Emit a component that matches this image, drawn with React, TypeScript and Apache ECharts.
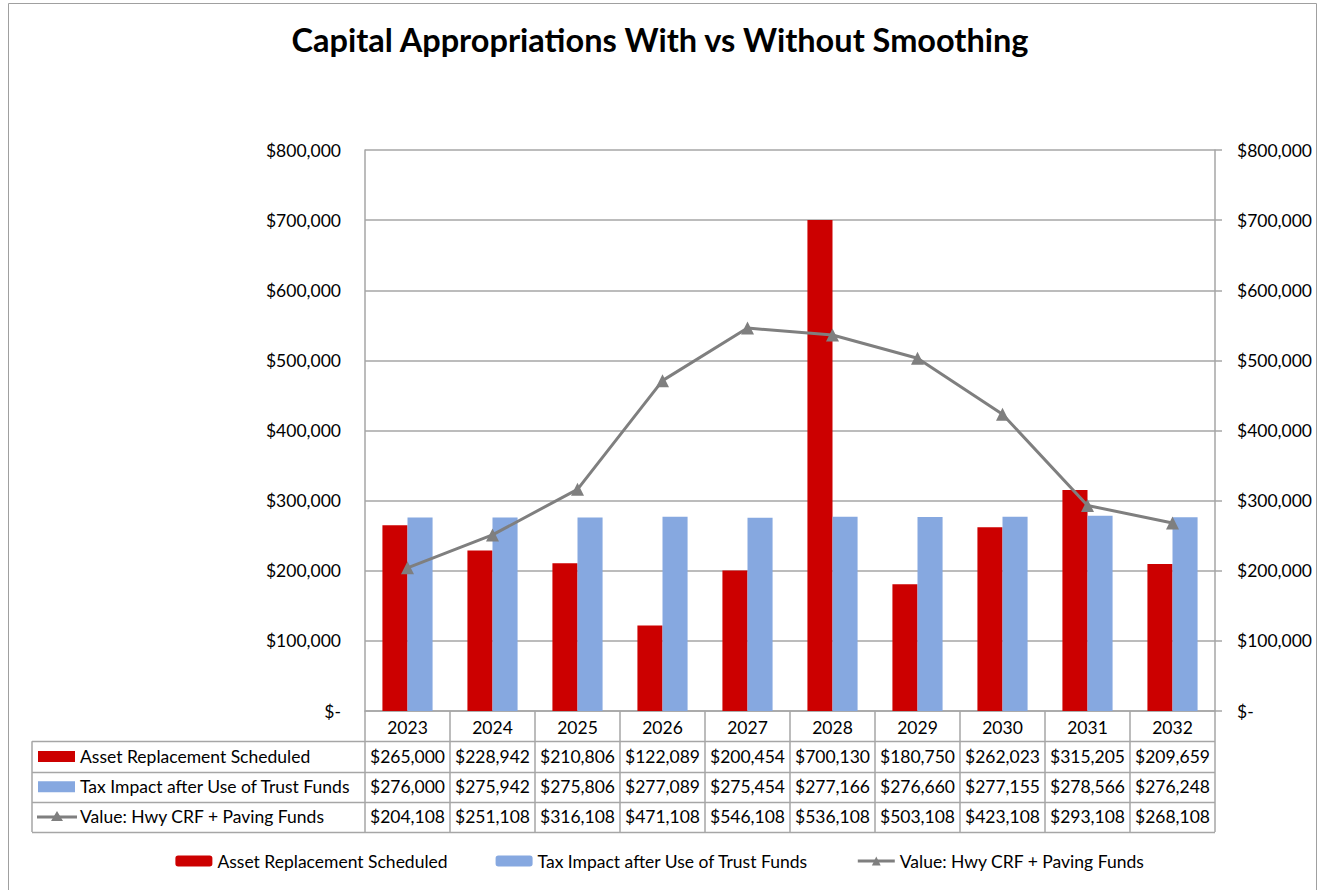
import React, { useEffect, useRef } from "react";
import * as echarts from "echarts";

const categories = ["2023", "2024", "2025", "2026", "2027", "2028", "2029", "2030", "2031", "2032"];
const assetReplacement = [265000, 228942, 210806, 122089, 200454, 700130, 180750, 262023, 315205, 209659];
const taxImpact = [276000, 275942, 275806, 277089, 275454, 277166, 276660, 277155, 278566, 276248];
const hwyValue = [204108, 251108, 316108, 471108, 546108, 536108, 503108, 423108, 293108, 268108];
const seriesNames = [
  "Asset Replacement Scheduled",
  "Tax Impact after Use of Trust Funds",
  "Value: Hwy CRF + Paving Funds",
];
const titleText = "Capital Appropriations With vs Without Smoothing";
const yMin = 0;
const yMax = 800000;
const yInterval = 100000;

const RED = "#cc0000";
const BLUE = "#86a8e0";
const GRAY = "#7f7f7f";
const RULE = "#a6a6a6";
const FONT = "Lato, 'Open Sans', sans-serif";
const FS = 17.5;

const W = 1320;
const H = 890;
const GRID_L = 365;
const GRID_R = 1215;
const GRID_T = 150;
const AXIS_Y = 711;
const ROW_H = 30.25;
const TABLE_L = 32;

const money = (v: number) => (v === 0 ? "$-" : "$" + v.toLocaleString("en-US"));

export default function App() {
  const ref = useRef<HTMLDivElement>(null);
  useEffect(() => {
    if (!ref.current) return;
    const chart = echarts.init(ref.current, null, { renderer: "svg" });
    const n = categories.length;
    const cellW = (GRID_R - GRID_L) / n;
    const rows = [assetReplacement, taxImpact, hwyValue];
    const graphics: any[] = [];
    graphics.push({
      type: "rect",
      shape: { x: 8.5, y: 3.5, width: 1308, height: 900 },
      style: { fill: "none", stroke: "#a0a0a0", lineWidth: 1 },
      silent: true,
      z: 0,
    });
    for (let r = 1; r <= 4; r++) {
      const y = Math.round(AXIS_Y + r * ROW_H) + 0.5;
      graphics.push({
        type: "line",
        shape: { x1: TABLE_L, y1: y, x2: GRID_R, y2: y },
        style: { stroke: RULE, lineWidth: 1.5 },
        silent: true,
      });
    }
    graphics.push({
      type: "line",
      shape: { x1: TABLE_L, y1: AXIS_Y + ROW_H, x2: TABLE_L, y2: AXIS_Y + 4 * ROW_H },
      style: { stroke: RULE, lineWidth: 1.5 },
      silent: true,
    });
    rows.forEach((vals, r) => {
      const cy = AXIS_Y + (r + 1.5) * ROW_H;
      if (r < 2) {
        graphics.push({
          type: "rect",
          shape: { x: 38, y: cy - 5.5, width: 37, height: 11 },
          style: { fill: r === 0 ? RED : BLUE },
          silent: true,
        });
      } else {
        graphics.push({
          type: "line",
          shape: { x1: 37, y1: cy, x2: 77, y2: cy },
          style: { stroke: GRAY, lineWidth: 3 },
          silent: true,
        });
        graphics.push({
          type: "polygon",
          shape: { points: [[57, cy - 6], [51, cy + 4], [63, cy + 4]] },
          style: { fill: GRAY },
          silent: true,
        });
      }
      graphics.push({
        type: "text",
        x: 80,
        y: cy,
        style: {
          text: seriesNames[r],
          font: `${FS}px ${FONT}`,
          fill: "#000",
          verticalAlign: "middle",
          align: "left",
        },
        silent: true,
      });
      vals.forEach((v, i) => {
        graphics.push({
          type: "text",
          x: GRID_L + (i + 0.5) * cellW,
          y: cy,
          style: {
            text: money(v),
            font: `${FS}px ${FONT}`,
            fill: "#000",
            verticalAlign: "middle",
            align: "center",
          },
          silent: true,
        });
      });
    });

    const yAxisBase = {
      type: "value",
      min: yMin,
      max: yMax,
      interval: yInterval,
      axisLine: { show: true, lineStyle: { color: RULE, width: 1.5 } },
      axisLabel: {
        formatter: money,
        fontSize: FS,
        fontFamily: FONT,
        color: "#000",
      },
    };

    chart.setOption({
      animation: false,
      backgroundColor: "#fff",
      title: {
        text: titleText,
        left: "center",
        top: 18,
        textStyle: { fontSize: 32.5, fontWeight: "bold", fontFamily: FONT, color: "#000" },
      },
      grid: { left: GRID_L, right: W - GRID_R, top: GRID_T, bottom: H - AXIS_Y },
      legend: {
        bottom: 15,
        left: "center",
        itemWidth: 37,
        itemHeight: 11,
        itemGap: 48,
        textStyle: { fontSize: FS, fontFamily: FONT, color: "#000" },
        data: [
          { name: seriesNames[0] },
          { name: seriesNames[1] },
          {
            name: seriesNames[2],
            itemStyle: { color: GRAY },
            lineStyle: { color: GRAY, width: 3 },
          },
        ],
      },
      xAxis: {
        type: "category",
        data: categories,
        axisLine: { show: true, lineStyle: { color: RULE, width: 1.5 } },
        axisTick: { show: true, length: 4 * ROW_H, lineStyle: { color: RULE, width: 1.5 } },
        axisLabel: { fontSize: FS, fontFamily: FONT, color: "#000", margin: 7 },
      },
      yAxis: [
        {
          ...yAxisBase,
          position: "left",
          axisTick: { show: false },
          splitLine: { show: true, lineStyle: { color: RULE, width: 1.5 } },
          axisLabel: { ...yAxisBase.axisLabel, margin: 24 },
        },
        {
          ...yAxisBase,
          position: "right",
          axisTick: { show: true, length: 7, lineStyle: { color: RULE, width: 1.5 } },
          splitLine: { show: false },
          axisLabel: { ...yAxisBase.axisLabel, margin: 22 },
        },
      ],
      series: [
        {
          name: seriesNames[0],
          type: "bar",
          data: assetReplacement,
          barGap: "0%",
          barCategoryGap: "41%",
          itemStyle: { color: RED },
          z: 2,
        },
        {
          name: seriesNames[1],
          type: "bar",
          data: taxImpact,
          itemStyle: { color: BLUE },
          z: 2,
        },
        {
          name: seriesNames[2],
          type: "line",
          yAxisIndex: 1,
          data: hwyValue,
          symbol: "triangle",
          symbolSize: 13,
          lineStyle: { color: GRAY, width: 3 },
          itemStyle: { color: GRAY },
          z: 5,
        },
      ],
      graphic: graphics,
    });
    return () => chart.dispose();
  }, []);
  return (
    <div
      ref={ref}
      style={{ position: "absolute", left: 0, top: 0, width: W, height: H, background: "#fff" }}
    />
  );
}
